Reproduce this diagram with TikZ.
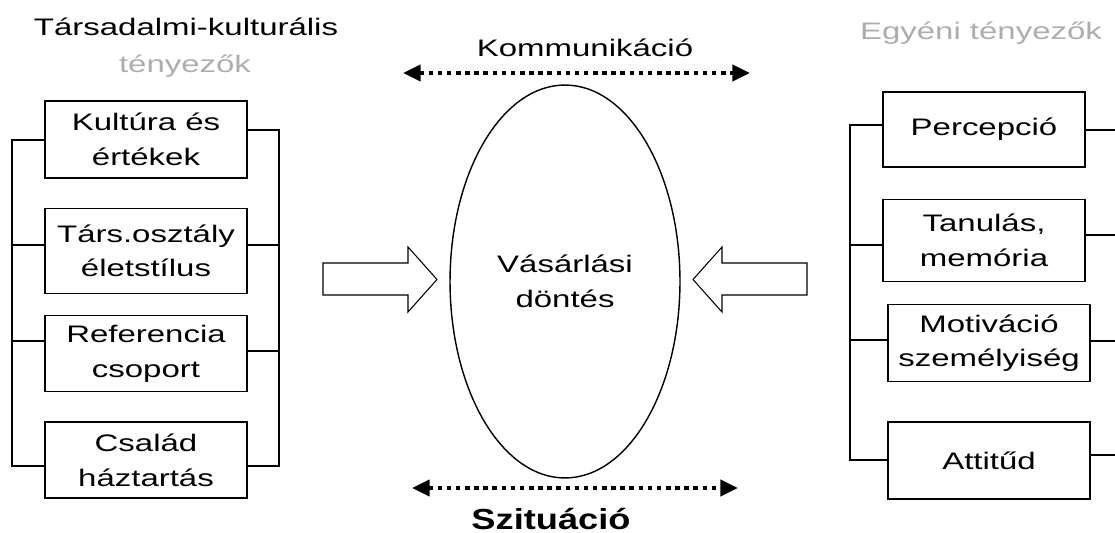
\documentclass[tikz,border=0pt]{standalone}
\usepackage{fontspec}
\setmainfont{Liberation Sans}[FakeStretch=1.38]
\newfontfamily\boldlabelfont{Liberation Sans}[FakeStretch=1.25]
\usepackage{tikz}
\usetikzlibrary{shapes.geometric}
\usetikzlibrary{arrows.meta}
\usetikzlibrary{positioning}
\tikzset{factor node/.style={shape=rectangle,
    draw, line width=0.8pt, align=center, inner sep=2pt,
    minimum width=4.04cm,
    font=\fontsize{13.6}{19.8}\selectfont}}
\tikzset{title node/.style={anchor=base, inner sep=0pt,
    font=\fontsize{13.6}{19.8}\selectfont}}
\tikzset{grey node/.style={title node, text=black!32}}
\tikzset{dotted arrow/.style={line width=2.6pt, dash pattern=on 2.6pt off 2.6pt,
    {Triangle[length=10pt,width=9pt]}-{Triangle[length=10pt,width=9pt]}}}
\tikzset{block arrow/.style={draw, line width=0.6pt, line join=miter}}

\begin{document}
\begin{tikzpicture}[x=0.02cm,y=-0.02cm]
    \useasboundingbox (0,0) rectangle (1115,533);

    \node[title node] (tk) at (186,36) {Társadalmi-kulturális};
    \node[grey node] (tk2) at (185,73) {tényezők};
    \node[grey node] (egyeni) at (981,40) {Egyéni tényezők};

    \node[factor node, minimum height=1.54cm] (kultura) at (146,139.5) {Kultúra és\\értékek};
    \node[factor node, minimum height=1.7cm] (osztaly) [below = 0.58cm of kultura] {Társ.osztály\\életstílus};
    \node[factor node, minimum height=1.52cm] (referencia) [below = 0.42cm of osztaly] {Referencia\\csoport};
    \node[factor node, minimum height=1.52cm] (csalad) [below = 0.58cm of referencia] {Család\\háztartás};

    \node[factor node, minimum height=1.5cm] (percepcio) at (984,129.5) {Percepció};
    \node[factor node, minimum height=1.64cm] (tanulas) [below = 0.62cm of percepcio] {Tanulás,\\memória};
    \node[factor node, minimum height=1.54cm] (motivacio) [below = 0.44cm of tanulas, xshift=0.1cm] {Motiváció\\személyiség};
    \node[factor node, minimum height=1.54cm] (attitud) [below = 0.78cm of motivacio] {Attitűd};

    \node[shape=ellipse, draw, line width=0.8pt, align=center,
          minimum width=4.6cm, minimum height=7.86cm,
          font=\fontsize{13.6}{19.8}\selectfont] (dontes) at (565,281.5) {Vásárlási\\döntés};

    % brackets
    \coordinate (bl1) at (12,140);  \coordinate (bl4) at (12,466);
    \coordinate (br1) at (279,130); \coordinate (br4) at (279,466);
    \coordinate (cl1) at (850,125); \coordinate (cl4) at (850,460);

    \path[draw,line width=0.8pt]
    (kultura.west |- bl1) -- (bl1) -- (bl4) -- (csalad.west |- bl4)
    (osztaly.west |- 0,245) -- (bl1 |- 0,245)
    (referencia.west |- 0,341) -- (bl1 |- 0,341)

    (kultura.east |- br1) -- (br1) -- (br4) -- (csalad.east |- br4)
    (osztaly.east |- 0,245) -- (br1 |- 0,245)
    (referencia.east |- 0,351) -- (br1 |- 0,351)

    (percepcio.west |- cl1) -- (cl1) -- (cl4) -- (attitud.west |- cl4)
    (tanulas.west |- 0,245) -- (cl1 |- 0,245)
    (motivacio.west |- 0,340) -- (cl1 |- 0,340)

    (percepcio.east |- 0,130) -- (1115,130)
    (tanulas.east |- 0,235) -- (1115,235)
    (motivacio.east |- 0,341) -- (1115,341)
    (attitud.east |- 0,455) -- (1115,455)
    ;

    % block arrows
    \draw[block arrow] (323,263) -- (408,263) -- (408,247) -- (437,279.5)
        -- (408,312) -- (408,295) -- (323,295) -- cycle;
    \draw[block arrow] (807,263) -- (722,263) -- (722,247) -- (693,279.5)
        -- (722,312) -- (722,295) -- (807,295) -- cycle;

    \node[title node] (komm) at (585,57) {Kommunikáció};
    \coordinate (kommL) at (403,73); \coordinate (kommR) at (750,73);
    \draw[dotted arrow] (kommL) -- (kommR);

    \coordinate (szitL) at (412,488); \coordinate (szitR) at (738,488);
    \draw[dotted arrow] (szitL) -- (szitR);
    \node[title node, font=\fontsize{16.5}{19}\selectfont\boldlabelfont\bfseries] (szit) at (551,529) {Szituáció};
\end{tikzpicture}
\end{document}
